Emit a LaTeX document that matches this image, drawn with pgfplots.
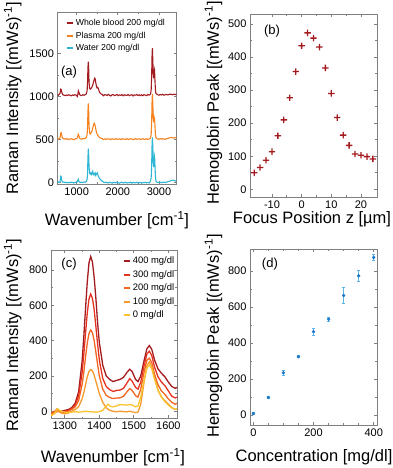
\documentclass[border=0pt]{standalone}
\usepackage{fontspec}
\setmainfont{Liberation Sans}
\usepackage{pgfplots}
\pgfplotsset{compat=1.18}
\definecolor{cBlood}{HTML}{A31A1F}
\definecolor{cPlasma}{HTML}{F5821F}
\definecolor{cWater}{HTML}{2EB6D4}
\definecolor{cC400}{HTML}{A31A1F}
\definecolor{cC300}{HTML}{E5321F}
\definecolor{cC200}{HTML}{F26522}
\definecolor{cC100}{HTML}{F79A2E}
\definecolor{cC0}{HTML}{F9C22E}
\definecolor{cDot}{HTML}{1F78C8}
\definecolor{cErr}{HTML}{5AB4E5}
\definecolor{cAxis}{HTML}{808080}

% filled plus sign (two rectangles) so it renders as a solid shape
\pgfdeclareplotmark{fplus}{%
  \pgfpathrectangle{\pgfqpoint{-\pgfplotmarksize}{-0.65pt}}{\pgfqpoint{2\pgfplotmarksize}{1.3pt}}%
  \pgfpathrectangle{\pgfqpoint{-0.65pt}{-\pgfplotmarksize}}{\pgfqpoint{1.3pt}{2\pgfplotmarksize}}%
  \pgfusepathqfill}

\pgfplotsset{
  panel/.style={
    scale only axis, anchor=north west, clip=true,
    axis line style={cAxis, line width=0.9pt},
    tick style={cAxis, line width=0.7pt},
    major tick length=3pt, minor tick length=1.6pt,
    tick align=inside,
    tick label style={font=\fontsize{11}{13}\selectfont},
    /pgf/number format/assume math mode=true,
    /pgf/number format/1000 sep={},
    minor tick num=1,
    legend image code/.code={\draw[#1,line width=2pt] (0pt,0pt) -- (6pt,0pt);},
  },
}
\tikzset{plab/.style={font=\fontsize{13}{15}\selectfont}}

\begin{document}
\begin{tikzpicture}
\useasboundingbox (0pt,0pt) rectangle (392pt,468pt);

% ---- (a) spectra
\begin{axis}[panel, at={(57.5pt,456pt)}, width=119pt, height=172pt,
  xmin=535, xmax=3425, ymin=-15, ymax=1980,
  xtick={1000,2000,3000}, ytick={0,500,1000,1500},
  legend style={at={(axis description cs:0.046,0.985)}, anchor=north west,
    draw=none, fill=none, font=\fontsize{8.7}{10}\selectfont,
    nodes={inner sep=1.7pt, text height=7pt, text depth=2.2pt}, cells={anchor=west}},
  every axis plot/.append style={line width=1.1pt}]
\addplot[cBlood] coordinates {(535,1020) (555,1015) (575,1025) (595,1035) (605,1060) (615,1085) (625,1080) (635,1060) (648,1035) (665,1020) (690,1015) (720,1010) (750,1018) (780,1012) (810,1020) (840,1014) (870,1008) (900,1018) (930,1013) (960,1021) (990,1015) (1010,1005) (1020,1000) (1030,1030) (1042,1065) (1055,1050) (1070,1025) (1090,1015) (1120,1010) (1150,1020) (1180,1014) (1210,1022) (1235,1030) (1255,1070) (1265,1180) (1275,1340) (1284,1405) (1292,1330) (1300,1180) (1310,1110) (1320,1090) (1335,1085) (1350,1095) (1365,1105) (1380,1120) (1395,1140) (1410,1165) (1425,1195) (1440,1212) (1452,1200) (1465,1160) (1480,1120) (1495,1100) (1510,1105) (1525,1095) (1540,1070) (1560,1045) (1590,1030) (1620,1025) (1650,1008) (1680,1021) (1710,1018) (1740,1012) (1770,1025) (1800,1013) (1830,1006) (1860,1020) (1890,1022) (1920,1010) (1950,1015) (1980,1024) (2010,1009) (2040,1018) (2070,1013) (2100,1022) (2130,1008) (2160,1020) (2190,1015) (2220,1012) (2250,1024) (2280,1010) (2310,1016) (2340,1021) (2370,1006) (2400,1018) (2430,1015) (2460,1022) (2490,1012) (2520,1019) (2550,1009) (2580,1019) (2610,1009) (2640,1022) (2670,1015) (2700,1010) (2730,1024) (2760,1016) (2780,1020) (2795,1030) (2810,1075) (2822,1250) (2832,1490) (2840,1560) (2850,1420) (2860,1260) (2870,1210) (2880,1290) (2890,1310) (2898,1240) (2906,1140) (2915,1070) (2925,1035) (2940,1030) (2970,1020) (3000,1015) (3030,1022) (3060,1018) (3090,1025) (3120,1015) (3150,1020) (3180,1024) (3210,1018) (3240,1022) (3270,1028) (3300,1025) (3330,1020) (3360,1026) (3390,1022) (3425,1025)};
\addlegendentry{Whole blood 200 mg/dl}
\addplot[cPlasma] coordinates {(535,510) (555,505) (575,515) (595,520) (605,545) (615,575) (625,580) (635,560) (648,530) (665,515) (690,510) (720,505) (750,512) (780,500) (810,508) (840,503) (870,510) (900,505) (930,498) (960,508) (990,510) (1015,520) (1030,545) (1042,560) (1055,545) (1070,520) (1090,510) (1120,505) (1150,512) (1180,508) (1210,515) (1235,525) (1255,560) (1265,650) (1275,840) (1284,920) (1292,840) (1300,680) (1310,600) (1320,570) (1335,565) (1350,580) (1365,590) (1380,610) (1395,640) (1410,670) (1425,690) (1440,680) (1455,650) (1470,610) (1485,580) (1500,560) (1520,545) (1545,530) (1570,520) (1600,515) (1625,510) (1650,501) (1680,508) (1710,503) (1740,510) (1770,505) (1800,507) (1830,499) (1860,509) (1890,506) (1920,502) (1950,511) (1980,503) (2010,505) (2040,508) (2070,500) (2100,510) (2130,504) (2160,507) (2190,501) (2220,511) (2250,505) (2280,502) (2310,510) (2340,508) (2370,499) (2400,504) (2430,512) (2460,503) (2490,507) (2520,509) (2550,500) (2580,506) (2610,511) (2640,502) (2670,505) (2700,510) (2730,501) (2760,508) (2780,512) (2795,520) (2810,560) (2822,720) (2832,950) (2840,1030) (2850,920) (2860,760) (2870,700) (2880,760) (2890,740) (2898,700) (2906,620) (2915,560) (2925,525) (2940,515) (2970,508) (3000,503) (3030,510) (3060,505) (3090,512) (3120,507) (3150,503) (3180,511) (3210,514) (3240,517) (3270,522) (3300,525) (3330,520) (3360,518) (3390,524) (3425,520)};
\addlegendentry{Plasma 200 mg/dl}
\addplot[cWater] coordinates {(535,5) (555,8) (575,3) (595,12) (605,40) (615,75) (625,70) (635,40) (648,15) (665,5) (690,8) (720,0) (750,5) (780,-2) (810,4) (840,0) (870,6) (900,2) (930,-3) (960,5) (990,3) (1015,10) (1030,30) (1040,40) (1050,25) (1065,8) (1090,3) (1120,6) (1150,2) (1180,8) (1210,5) (1235,15) (1255,40) (1265,120) (1275,300) (1284,395) (1292,330) (1300,200) (1310,130) (1320,105) (1335,100) (1350,115) (1365,95) (1380,110) (1392,130) (1405,100) (1420,90) (1435,105) (1449,115) (1462,85) (1475,95) (1490,110) (1505,115) (1515,90) (1530,70) (1550,55) (1570,40) (1595,30) (1620,18) (1650,8) (1680,2) (1710,5) (1740,0) (1770,-3) (1800,6) (1830,1) (1860,-5) (1890,4) (1920,2) (1950,-2) (1980,7) (2010,-1) (2040,-6) (2070,3) (2100,5) (2130,-3) (2160,0) (2190,6) (2220,-4) (2250,2) (2280,-1) (2310,5) (2340,-5) (2370,3) (2400,0) (2430,-2) (2460,6) (2490,-3) (2520,1) (2550,4) (2580,-6) (2610,2) (2640,0) (2670,5) (2700,-2) (2730,3) (2760,-4) (2780,8) (2795,20) (2810,60) (2822,200) (2832,450) (2840,525) (2850,420) (2860,250) (2870,180) (2880,260) (2890,300) (2898,260) (2906,150) (2915,60) (2925,20) (2940,8) (2970,5) (3000,2) (3030,6) (3060,0) (3090,4) (3120,7) (3150,2) (3180,5) (3210,10) (3240,14) (3270,20) (3300,25) (3330,30) (3360,28) (3390,22) (3425,15)};
\addlegendentry{Water 200 mg/dl}
\node[plab] at (axis description cs:0.097,0.651) {(a)};
\end{axis}

% ---- (b) focus scan
\begin{axis}[panel, at={(250pt,454pt)}, width=127pt, height=183pt,
  xmin=-17.4, xmax=25.4, ymin=-23, ymax=530,
  xtick={-10,0,10,20}, ytick={0,100,200,300,400,500}]
\addplot[cBlood, only marks, mark=fplus, mark size=3.2pt,
  mark options={fill=cBlood, draw=none}] coordinates {
(-16,50) (-14,66) (-12,88) (-10,114) (-8,162) (-6,210) (-4,277) (-2,356) (0,434) (2,473) (4,457) (6,430) (8,367) (10,290) (12,217) (14,164) (16,133) (18,107) (20,103) (22,99) (24,92)};
\node[plab] at (axis description cs:0.173,0.907) {(b)};
\end{axis}

% ---- (c) concentration spectra
\begin{axis}[panel, at={(51pt,218pt)}, width=126pt, height=168.5pt,
  xmin=1260, xmax=1625, ymin=-41, ymax=913,
  xtick={1300,1400,1500,1600}, ytick={0,200,400,600,800},
  legend style={at={(axis description cs:0.544,0.985)}, anchor=north west,
    draw=none, fill=none, font=\fontsize{9.4}{11}\selectfont,
    nodes={inner sep=2.1pt, text height=7pt, text depth=2.2pt}, cells={anchor=west}},
  every axis plot/.append style={line width=1.3pt}]
\addplot[cC400] coordinates {(1260,-10) (1270,-5) (1277,12) (1285,2) (1290,0) (1300,5) (1310,10) (1320,20) (1330,45) (1340,110) (1350,280) (1355,420) (1360,580) (1365,730) (1370,840) (1375,876) (1380,845) (1385,760) (1390,640) (1395,500) (1400,390) (1410,260) (1420,200) (1430,180) (1440,168) (1450,175) (1460,180) (1470,192) (1480,220) (1488,238) (1495,225) (1505,180) (1512,168) (1520,200) (1530,290) (1538,355) (1545,372) (1552,350) (1560,290) (1570,240) (1580,215) (1590,195) (1600,165) (1610,140) (1620,130) (1625,135)};
\addlegendentry{400 mg/dl}
\addplot[cC300] coordinates {(1260,-15) (1270,-5) (1280,0) (1290,-5) (1300,0) (1310,5) (1320,15) (1330,35) (1340,85) (1350,215) (1355,320) (1360,440) (1365,555) (1370,635) (1375,664) (1380,640) (1385,575) (1390,480) (1395,380) (1400,290) (1410,185) (1420,140) (1430,122) (1440,112) (1450,118) (1460,120) (1470,130) (1480,160) (1488,185) (1495,170) (1505,135) (1512,125) (1520,165) (1530,260) (1538,325) (1545,340) (1552,315) (1560,250) (1570,195) (1580,165) (1590,145) (1600,115) (1610,85) (1620,75) (1625,80)};
\addlegendentry{300 mg/dl}
\addplot[cC200] coordinates {(1260,-10) (1270,0) (1280,5) (1290,-5) (1300,-5) (1310,0) (1320,10) (1330,25) (1340,60) (1350,150) (1355,220) (1360,305) (1365,385) (1370,440) (1375,460) (1380,445) (1385,400) (1390,335) (1395,265) (1400,200) (1410,125) (1420,90) (1430,78) (1440,72) (1450,75) (1460,76) (1470,85) (1480,110) (1488,128) (1495,118) (1505,88) (1512,80) (1520,125) (1530,225) (1538,290) (1545,300) (1552,275) (1560,210) (1570,150) (1580,115) (1590,95) (1600,70) (1610,50) (1620,40) (1625,45)};
\addlegendentry{200 mg/dl}
\addplot[cC100] coordinates {(1260,-20) (1270,-10) (1280,0) (1290,-10) (1300,-15) (1310,-10) (1320,0) (1330,10) (1340,25) (1350,70) (1355,105) (1360,150) (1365,195) (1370,225) (1375,236) (1380,228) (1385,205) (1390,170) (1395,135) (1400,100) (1410,50) (1420,20) (1430,5) (1440,0) (1450,-3) (1460,0) (1470,-2) (1480,-3) (1488,0) (1495,-3) (1505,-8) (1512,-5) (1520,40) (1530,170) (1538,260) (1545,280) (1552,255) (1560,190) (1570,120) (1580,80) (1590,60) (1600,40) (1610,20) (1620,10) (1625,15)};
\addlegendentry{100 mg/dl}
\addplot[cC0] coordinates {(1260,-25) (1270,-15) (1278,15) (1285,5) (1290,0) (1300,-5) (1310,-8) (1320,-5) (1330,-3) (1340,-5) (1350,-3) (1360,0) (1370,-2) (1380,-3) (1390,-5) (1400,-2) (1410,5) (1418,25) (1425,40) (1432,28) (1440,25) (1450,30) (1460,38) (1470,36) (1480,35) (1488,38) (1495,35) (1505,25) (1512,30) (1520,80) (1530,180) (1538,245) (1545,262) (1552,240) (1560,180) (1570,120) (1580,80) (1590,55) (1600,35) (1610,20) (1620,10) (1625,15)};
\addlegendentry{0 mg/dl}
\node[plab] at (axis description cs:0.143,0.917) {(c)};
\end{axis}

% ---- (d) calibration
\begin{axis}[panel, at={(250pt,219pt)}, width=127pt, height=176pt,
  xmin=-11, xmax=411, ymin=-55, ymax=922,
  xtick={0,200,400}, ytick={0,200,400,600,800}, minor x tick num=3]
\addplot[only marks, mark=*, mark size=1.5pt, cDot,
  error bars/.cd, y dir=both, y explicit,
  error bar style={cErr, line width=0.9pt}, error mark options={cErr, rotate=90, mark size=1.5pt, line width=0.8pt}]
  coordinates {
(0,9) +- (0,5)
(50,98) +- (0,4)
(100,235) +- (0,13)
(150,324) +- (0,6)
(200,463) +- (0,18)
(250,532) +- (0,10)
(300,664) +- (0,45)
(350,773) +- (0,32)
(400,875) +- (0,15)};
\node[plab] at (axis description cs:0.157,0.915) {(d)};
\end{axis}

% ---- axis titles
\begin{scope}[every node/.style={font=\fontsize{16.5}{19}\selectfont}]
\node[rotate=90] at (12.7pt,370pt) {Raman Intensity [(mWs)\textsuperscript{-1}]};
\node[rotate=90] at (213.5pt,365pt) {Hemoglobin Peak [(mWs)\textsuperscript{-1}]};
\node[rotate=90] at (12.7pt,133pt) {Raman Intensity [(mWs)\textsuperscript{-1}]};
\node[rotate=90] at (213.5pt,132pt) {Hemoglobin Peak [(mWs)\textsuperscript{-1}]};
\node at (117pt,248pt) {Wavenumber [cm\textsuperscript{-1}]};
\node at (312pt,249pt) {Focus Position z [µm]};
\node at (113pt,11pt) {Wavenumber [cm\textsuperscript{-1}]};
\node at (314pt,11pt) {Concentration [mg/dl]};
\end{scope}
\end{tikzpicture}
\end{document}
